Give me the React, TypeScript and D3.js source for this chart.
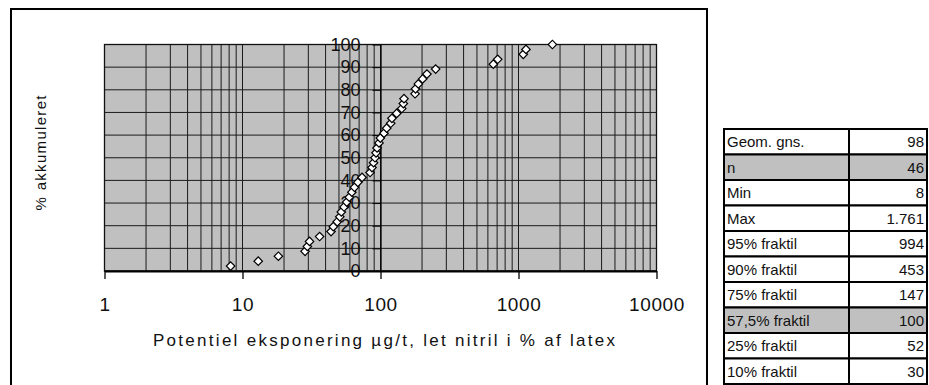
import React, { useEffect, useRef } from "react";
import * as d3 from "d3";

// Potential exposure values (µg/t), sorted ascending; one per sample (n = 46)
const exposure: number[] = [
  8.2, 13, 18.2, 28.4, 29.5, 30.6, 36.2, 43.8, 45.5, 48.6,
  50.7, 52, 54.4, 56.9, 59.4, 62, 64.8, 68.5, 73.5, 84,
  86.8, 89, 91.2, 92.8, 94.4, 97.5, 99.7, 106, 110.9, 118.6,
  121, 131, 142.5, 146.3, 148, 178, 179.4, 188, 202, 217,
  251, 657, 707, 1083, 1133, 1761,
];

// Cumulative percentage for each ranked sample
const cumulative: number[] = exposure.map((_, i) => ((i + 1) / exposure.length) * 100);

const xTickValues: number[] = [1, 10, 100, 1000, 10000];
const yTickValues: number[] = [0, 10, 20, 30, 40, 50, 60, 70, 80, 90, 100];

const statLabels: string[] = [
  "Geom. gns.", "n", "Min", "Max", "95% fraktil", "90% fraktil",
  "75% fraktil", "57,5% fraktil", "25% fraktil", "10% fraktil",
];
const statValues: string[] = ["98", "46", "8", "1.761", "994", "453", "147", "100", "52", "30"];
const statShaded: boolean[] = [false, true, false, false, false, false, false, true, false, false];

const xTitle = "Potentiel eksponering µg/t, let nitril i % af latex";
const yTitle = "% akkumuleret";

const W = 929;
const H = 385;
const FONT = "'Liberation Sans', Arial, sans-serif";

const plot = { left: 104.5, right: 656.5, top: 44.5, bottom: 271 };

export default function App() {
  const xAxisRef = useRef<SVGGElement>(null);
  const yAxisRef = useRef<SVGGElement>(null);

  const x = d3.scaleLog().domain([1, 10000]).range([plot.left, plot.right]);
  const y = d3.scaleLinear().domain([0, 100]).range([plot.bottom, plot.top]);

  // minor + major vertical grid values for each decade
  const vGrid: number[] = [];
  for (let d = 0; d < 4; d++) {
    for (let m = 1; m <= 9; m++) vGrid.push(m * Math.pow(10, d));
  }
  vGrid.push(10000);

  useEffect(() => {
    document.body.style.margin = "0";
    if (xAxisRef.current) {
      const g = d3.select(xAxisRef.current);
      g.call(
        d3.axisBottom(x).tickValues(xTickValues).tickSize(8).tickSizeOuter(0)
          .tickPadding(19).tickFormat((d) => String(d))
      );
      g.select(".domain").attr("stroke", "#000").attr("stroke-width", 2);
      g.selectAll(".tick line").attr("stroke", "#000").attr("stroke-width", 1.3);
      g.selectAll(".tick text")
        .attr("font-size", 19).attr("font-family", FONT).attr("fill", "#111")
        .attr("letter-spacing", "0.6px");
    }
    if (yAxisRef.current) {
      const g = d3.select(yAxisRef.current);
      g.call(
        d3.axisLeft(y).tickValues(yTickValues).tickSize(8).tickSizeOuter(0)
          .tickPadding(12).tickFormat((d) => String(d))
      );
      g.select(".domain").attr("stroke", "#000").attr("stroke-width", 1.3);
      g.selectAll(".tick line").attr("stroke", "#000").attr("stroke-width", 1);
      g.selectAll(".tick text")
        .attr("font-size", 18).attr("font-family", FONT).attr("fill", "#111");
    }
  }, []);

  const diamond = d3.symbol().type(d3.symbolSquare).size(36)() as string;

  const table = { left: 724, mid: 849, right: 927, top: 129, row: 25.5 };

  return (
    <div style={{ position: "absolute", left: 0, top: 0 }}>
      <svg width={W} height={H} style={{ display: "block", background: "#fff" }}>
        {/* chart frame */}
        <rect x={11} y={9} width={696} height={390} fill="#fff" stroke="#000" strokeWidth={2} />

        {/* plot area */}
        <rect
          x={plot.left}
          y={plot.top}
          width={plot.right - plot.left}
          height={plot.bottom - plot.top}
          fill="#c0c0c0"
        />
        {vGrid.map((v, i) => (
          <line
            key={"v" + i}
            x1={x(v)}
            x2={x(v)}
            y1={plot.top}
            y2={plot.bottom}
            stroke="#1a1a1a"
            strokeWidth={1}
          />
        ))}
        {yTickValues.map((v) => (
          <line
            key={"h" + v}
            x1={plot.left}
            x2={plot.right}
            y1={y(v)}
            y2={y(v)}
            stroke="#1a1a1a"
            strokeWidth={1}
          />
        ))}
        <rect
          x={plot.left}
          y={plot.top}
          width={plot.right - plot.left}
          height={plot.bottom - plot.top}
          fill="none"
          stroke="#111"
          strokeWidth={1.3}
        />

        <g ref={yAxisRef} transform={`translate(${x(100)},0)`} />
        <g ref={xAxisRef} transform={`translate(0,${plot.bottom})`} />

        {/* data points */}
        {exposure.map((v, i) => (
          <path
            key={"p" + i}
            d={diamond}
            transform={`translate(${x(v)},${y(cumulative[i])}) rotate(45)`}
            fill="#fff"
            stroke="#000"
            strokeWidth={1.2}
          />
        ))}

        {/* axis titles */}
        <text
          x={384}
          y={346}
          textAnchor="middle"
          fontFamily={FONT}
          fontSize={17}
          textLength={462}
          lengthAdjust="spacing"
          fill="#111"
        >
          {xTitle}
        </text>
        <text
          transform="translate(46,153) rotate(-90)"
          textAnchor="middle"
          fontFamily={FONT}
          fontSize={15}
          textLength={115}
          lengthAdjust="spacing"
          fill="#111"
        >
          {yTitle}
        </text>

        {/* statistics table */}
        {statLabels.map((label, i) => {
          const top = table.top + i * table.row;
          return (
            <g key={"r" + i}>
              <rect
                x={table.left}
                y={top}
                width={table.right - table.left}
                height={table.row}
                fill={statShaded[i] ? "#c0c0c0" : "#fff"}
                stroke="#000"
                strokeWidth={2}
              />
              <line x1={table.mid} x2={table.mid} y1={top} y2={top + table.row} stroke="#000" strokeWidth={2} />
              <text
                x={table.left + 3}
                y={top + table.row / 2 + 5.5}
                fontFamily={FONT}
                fontSize={15}
                fill="#111"
              >
                {label}
              </text>
              <text
                x={table.right - 3}
                y={top + table.row / 2 + 5.5}
                textAnchor="end"
                fontFamily={FONT}
                fontSize={15}
                fill="#111"
              >
                {statValues[i]}
              </text>
            </g>
          );
        })}
      </svg>
    </div>
  );
}
